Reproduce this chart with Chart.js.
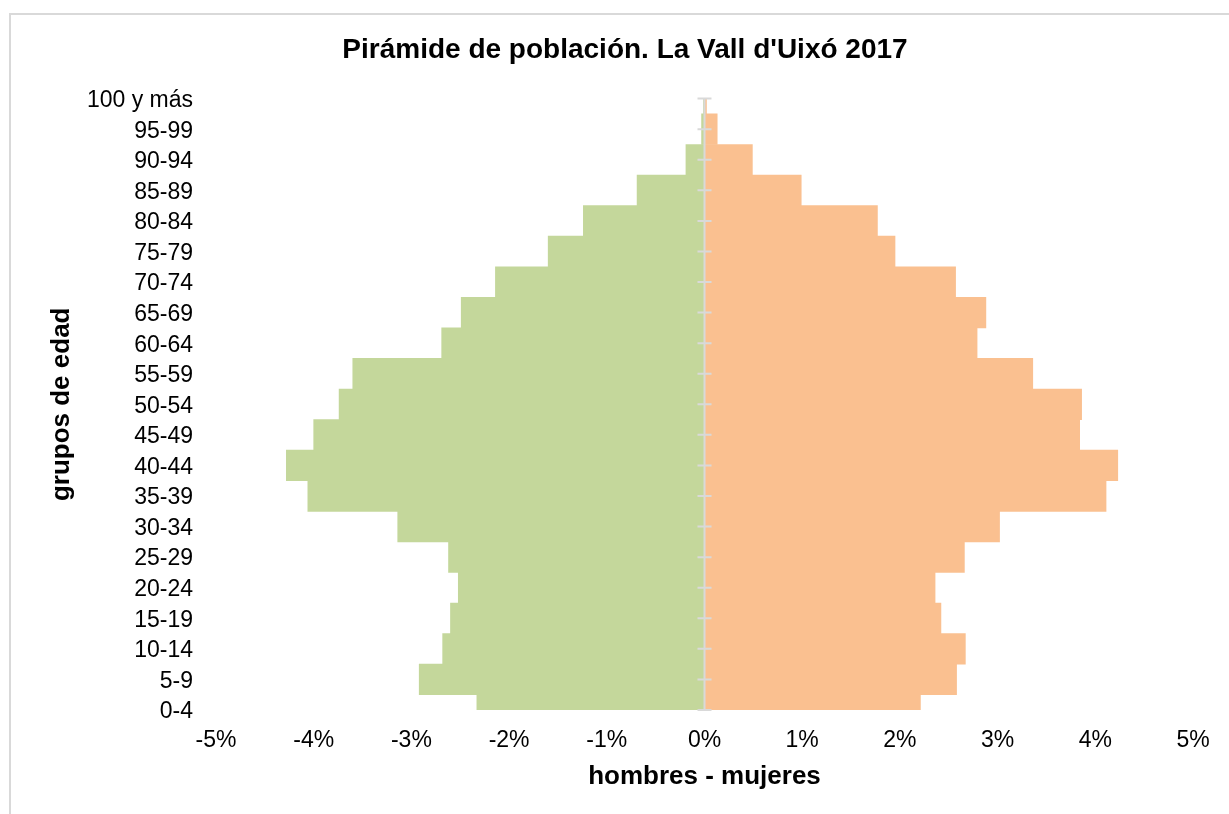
<!DOCTYPE html>
<html>
<head>
<meta charset="utf-8">
<script src="https://cdn.jsdelivr.net/npm/chart.js@4.4.1/dist/chart.umd.min.js"></script>
<style>
  body { margin: 0; background: #fff; overflow: hidden; }
  #frame { position: absolute; left: 9px; top: 13px; width: 1260px; height: 840px; border: 2px solid #d9d9d9; box-sizing: border-box; }
  #box { position: absolute; left: 10px; top: 13px; width: 1230px; height: 820px; }
</style>
</head>
<body>
<div id="frame"></div>
<div id="box"><canvas id="piramide"></canvas></div>
<script>
  // grupos de edad, de abajo arriba
  var grupos = ['0-4', '5-9', '10-14', '15-19', '20-24', '25-29', '30-34', '35-39', '40-44', '45-49',
    '50-54', '55-59', '60-64', '65-69', '70-74', '75-79', '80-84', '85-89', '90-94', '95-99', '100 y más'];

  // % sobre la población total (hombres en negativo)
  var hombres = [-2.33, -2.92, -2.68, -2.60, -2.52, -2.62, -3.14, -4.06, -4.28, -4.00,
    -3.74, -3.60, -2.69, -2.49, -2.14, -1.60, -1.24, -0.69, -0.19, -0.03, -0.01];
  var mujeres = [2.21, 2.58, 2.67, 2.42, 2.36, 2.66, 3.02, 4.11, 4.23, 3.84,
    3.86, 3.36, 2.79, 2.88, 2.57, 1.95, 1.77, 0.99, 0.49, 0.13, 0.02];

  var ejeX = [-5, -4, -3, -2, -1, 0, 1, 2, 3, 4, 5];

  Chart.defaults.font.family = '"Liberation Sans", Arial, sans-serif';
  Chart.defaults.color = '#000';

  // linea del eje vertical en el 0 con sus marcas
  var ejeCero = {
    id: 'ejeCero',
    afterDatasetsDraw: function (chart) {
      var c = chart.ctx, x = chart.scales.x, y = chart.scales.y;
      var x0 = x.getPixelForValue(0);
      c.save();
      c.strokeStyle = '#d9d9d9';
      c.lineWidth = 2;
      c.beginPath();
      c.moveTo(x0, chart.chartArea.top);
      c.lineTo(x0, chart.chartArea.bottom);
      for (var i = 0; i < grupos.length; i++) {
        var py = y.getPixelForValue(i);
        c.moveTo(x0 - 7, py);
        c.lineTo(x0 + 7, py);
      }
      c.stroke();
      c.restore();
    }
  };

  var ctx = document.getElementById('piramide');
  var piramide = new Chart(ctx, {
    type: 'bar',
    data: {
      labels: grupos,
      datasets: [
        { label: 'hombres', data: hombres, backgroundColor: '#c4d79b', clip: 0 },
        { label: 'mujeres', data: mujeres, backgroundColor: '#fac090', clip: 0 }
      ]
    },
    plugins: [ejeCero],
    options: {
      indexAxis: 'y',
      responsive: true,
      maintainAspectRatio: false,
      animation: false,
      barPercentage: 1,
      categoryPercentage: 1,
      layout: { padding: { left: 0, right: 0, top: 0, bottom: 33 } },
      plugins: {
        legend: { display: false },
        tooltip: { enabled: false },
        title: {
          display: true,
          text: 'Pirámide de población. La Vall d\'Uixó 2017',
          font: { size: 28, weight: 'bold' },
          color: '#000',
          padding: { top: 20, bottom: 32 }
        }
      },
      scales: {
        x: {
          stacked: true,
          min: ejeX[0],
          max: ejeX[ejeX.length - 1],
          afterBuildTicks: function (s) { s.ticks = ejeX.map(function (v) { return { value: v }; }); },
          afterFit: function (s) { s.height = 90; },
          grid: { display: false, drawTicks: false },
          border: { display: false },
          ticks: {
            font: { size: 23 },
            padding: 17,
            callback: function (v) { return v + '%'; }
          },
          title: {
            display: true,
            text: 'hombres - mujeres',
            font: { size: 26, weight: 'bold' },
            padding: { top: 0, bottom: 8 }
          }
        },
        y: {
          stacked: true,
          reverse: true,
          offset: false,
          afterFit: function (s) { s.width = 206; },
          grid: { display: false, drawTicks: false },
          border: { display: false },
          ticks: { font: { size: 23 }, padding: 23, autoSkip: false, labelOffset: 2 },
          title: {
            display: true,
            text: 'grupos de edad',
            font: { size: 26, weight: 'bold' },
            padding: { top: 36, bottom: 0 }
          }
        },
        // margen derecho vacío, para que el título quede centrado en el marco
        margenDer: {
          type: 'category',
          axis: 'y',
          position: 'right',
          afterFit: function (s) { s.width = 47; },
          grid: { display: false, drawTicks: false },
          border: { display: false },
          ticks: { display: false }
        }
      }
    }
  });
</script>
</body>
</html>
